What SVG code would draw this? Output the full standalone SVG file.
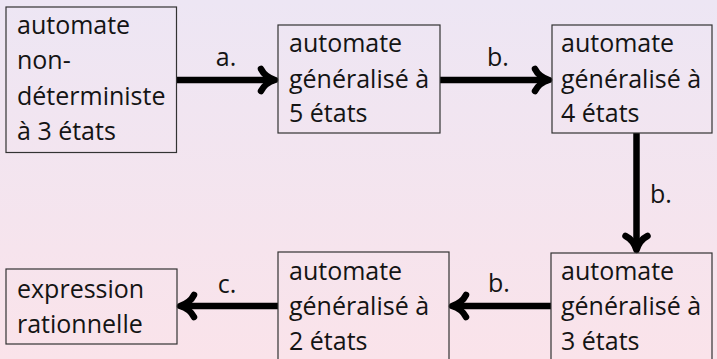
<svg xmlns="http://www.w3.org/2000/svg" xmlns:xlink="http://www.w3.org/1999/xlink" width="717" height="359" viewBox="0 0 717 359">
  <defs>
    <linearGradient id="bg" x1="0" y1="0" x2="0" y2="1">
      <stop offset="0" stop-color="#EDE6F4"/>
      <stop offset="1" stop-color="#FAE3EA"/>
    </linearGradient>
    <!-- curved "to"-style arrow tip, pointing along +x, tip at origin -->
    <path id="tip" d="M-14,-11 C-11,-5 -5,-1.5 0,0 C-5,1.5 -11,5 -14,11"/>
    <style>
      .box { fill: none; stroke: #333; stroke-width: 1.2; }
      .txt { font-family: "Open Sans", "DejaVu Sans", sans-serif; font-size: 25px; fill: #141414; }
      .edge { fill: none; stroke: #000; stroke-width: 6.5; stroke-linecap: butt; }
      .head { fill: none; stroke: #000; stroke-width: 6.5; stroke-linecap: round; stroke-linejoin: round; }
      .lbl { font-family: "Open Sans", "DejaVu Sans", sans-serif; font-size: 25px; fill: #141414; text-anchor: middle; }
    </style>
  </defs>

  <rect x="0" y="0" width="717" height="359" fill="url(#bg)"/>

  <!-- connectors -->
  <g id="connectors">
    <g id="edge-a">
      <line class="edge" x1="177" y1="80" x2="274" y2="80"/>
      <use xlink:href="#tip" class="head" transform="translate(275,80)"/>
      <text class="lbl" x="226" y="66">a.</text>
    </g>
    <g id="edge-b1">
      <line class="edge" x1="440" y1="80" x2="548" y2="80"/>
      <use xlink:href="#tip" class="head" transform="translate(549,80)"/>
      <text class="lbl" x="498" y="66">b.</text>
    </g>
    <g id="edge-b2">
      <line class="edge" x1="636.5" y1="133" x2="636.5" y2="249"/>
      <use xlink:href="#tip" class="head" transform="translate(636.5,250) rotate(90)"/>
      <text class="lbl" x="661" y="203">b.</text>
    </g>
    <g id="edge-b3">
      <line class="edge" x1="551" y1="306" x2="453" y2="306"/>
      <use xlink:href="#tip" class="head" transform="translate(452,306) rotate(180)"/>
      <text class="lbl" x="499" y="292">b.</text>
    </g>
    <g id="edge-c">
      <line class="edge" x1="278" y1="306" x2="181" y2="306"/>
      <use xlink:href="#tip" class="head" transform="translate(180,306) rotate(180)"/>
      <text class="lbl" x="227" y="293">c.</text>
    </g>
  </g>

  <!-- nodes -->
  <g id="n-nfa3">
    <rect class="box" x="6" y="7" width="170.5" height="145.5"/>
    <text class="txt" x="17" y="34">automate</text>
    <text class="txt" x="17" y="69">non-</text>
    <text class="txt" x="17" y="105">déterministe</text>
    <text class="txt" x="17" y="140">à 3 états</text>
  </g>

  <g id="n-gen5">
    <rect class="box" x="278" y="25" width="162" height="108"/>
    <text class="txt" x="289" y="52">automate</text>
    <text class="txt" x="289" y="88">généralisé à</text>
    <text class="txt" x="289" y="122">5 états</text>
  </g>

  <g id="n-gen4">
    <rect class="box" x="552" y="25" width="160" height="108"/>
    <text class="txt" x="561" y="52">automate</text>
    <text class="txt" x="561" y="88">généralisé à</text>
    <text class="txt" x="561" y="122">4 états</text>
  </g>

  <g id="n-gen3">
    <rect class="box" x="551" y="253" width="161" height="110"/>
    <text class="txt" x="561" y="280">automate</text>
    <text class="txt" x="561" y="315">généralisé à</text>
    <text class="txt" x="561" y="350">3 états</text>
  </g>

  <g id="n-gen2">
    <rect class="box" x="278" y="252" width="171" height="111"/>
    <text class="txt" x="289" y="280">automate</text>
    <text class="txt" x="289" y="315">généralisé à</text>
    <text class="txt" x="289" y="350">2 états</text>
  </g>

  <g id="n-regex">
    <rect class="box" x="6" y="269" width="171" height="75"/>
    <text class="txt" x="17" y="298">expression</text>
    <text class="txt" x="17" y="333">rationnelle</text>
  </g>
</svg>
